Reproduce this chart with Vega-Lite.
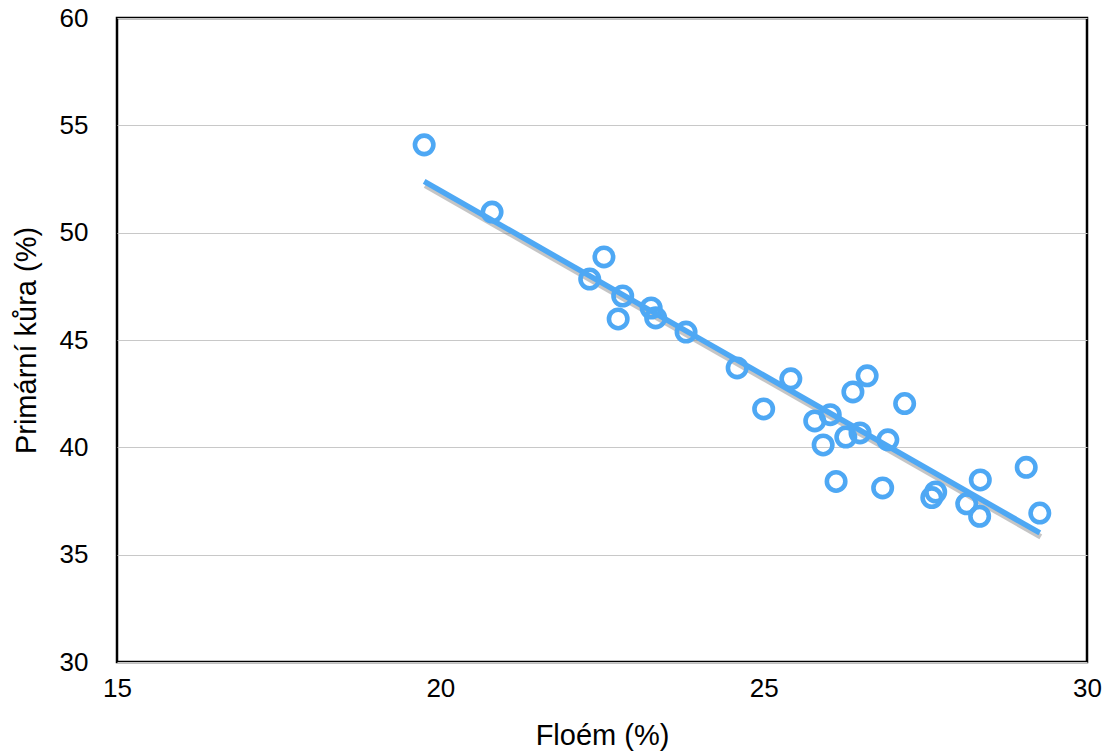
{
  "$schema": "https://vega.github.io/schema/vega-lite/v6.json",
  "width": 970,
  "height": 644,
  "autosize": {"type": "none"},
  "padding": {"left": 117, "top": 18, "right": 19, "bottom": 94},
  "config": {
    "font": "Liberation Sans",
    "view": {"stroke": "#000000", "strokeWidth": 2.5},
    "axis": {
      "domain": false,
      "ticks": false,
      "labelFont": "Liberation Sans",
      "titleFont": "Liberation Sans",
      "labelFontSize": 26,
      "titleFontSize": 29,
      "labelColor": "#000000",
      "titleColor": "#000000",
      "titleFontWeight": "normal",
      "labelOverlap": false,
      "labelFlush": false,
      "gridColor": "#c8c8c8",
      "gridWidth": 1.2
    }
  },
  "data": {
    "values": [
      {"floem": 19.75, "kura": 54.09},
      {"floem": 20.80, "kura": 50.96},
      {"floem": 22.31, "kura": 47.84},
      {"floem": 22.53, "kura": 48.87},
      {"floem": 22.82, "kura": 47.05},
      {"floem": 22.75, "kura": 45.98},
      {"floem": 23.26, "kura": 46.49},
      {"floem": 23.33, "kura": 46.03},
      {"floem": 23.80, "kura": 45.37},
      {"floem": 24.59, "kura": 43.70},
      {"floem": 25.42, "kura": 43.19},
      {"floem": 25.00, "kura": 41.79},
      {"floem": 25.79, "kura": 41.23},
      {"floem": 26.03, "kura": 41.52},
      {"floem": 25.92, "kura": 40.11},
      {"floem": 26.27, "kura": 40.48},
      {"floem": 26.49, "kura": 40.67},
      {"floem": 26.38, "kura": 42.58},
      {"floem": 26.60, "kura": 43.33},
      {"floem": 26.92, "kura": 40.35},
      {"floem": 27.18, "kura": 42.04},
      {"floem": 26.12, "kura": 38.41},
      {"floem": 26.84, "kura": 38.11},
      {"floem": 27.60, "kura": 37.66},
      {"floem": 27.66, "kura": 37.92},
      {"floem": 28.14, "kura": 37.37},
      {"floem": 28.35, "kura": 38.48},
      {"floem": 28.34, "kura": 36.79},
      {"floem": 29.06, "kura": 39.07},
      {"floem": 29.27, "kura": 36.94}
    ]
  },
  "encoding": {
    "x": {
      "field": "floem",
      "type": "quantitative",
      "scale": {"domain": [15, 30], "nice": false, "zero": false},
      "axis": {
        "title": "Floém (%)",
        "grid": false,
        "values": [15, 20, 25, 30],
        "labelPadding": 13,
        "titlePadding": 20
      }
    },
    "y": {
      "field": "kura",
      "type": "quantitative",
      "scale": {"domain": [30, 60], "nice": false, "zero": false},
      "axis": {
        "title": "Primární kůra (%)",
        "grid": true,
        "values": [30, 35, 40, 45, 50, 55, 60],
        "labelPadding": 29,
        "titlePadding": 18
      }
    }
  },
  "layer": [
    {
      "transform": [{"regression": "kura", "on": "floem"}],
      "mark": {
        "type": "line",
        "color": "#6f6f6f",
        "strokeWidth": 5.5,
        "opacity": 0.4,
        "yOffset": 4,
        "xOffset": 1,
        "strokeCap": "butt"
      }
    },
    {
      "transform": [{"regression": "kura", "on": "floem"}],
      "mark": {
        "type": "line",
        "color": "#4ea8f4",
        "strokeWidth": 5.5,
        "strokeCap": "butt"
      }
    },
    {
      "mark": {
        "type": "point",
        "shape": "circle",
        "filled": false,
        "size": 340,
        "strokeWidth": 4.6,
        "color": "#4ea8f4",
        "opacity": 1
      }
    }
  ]
}
